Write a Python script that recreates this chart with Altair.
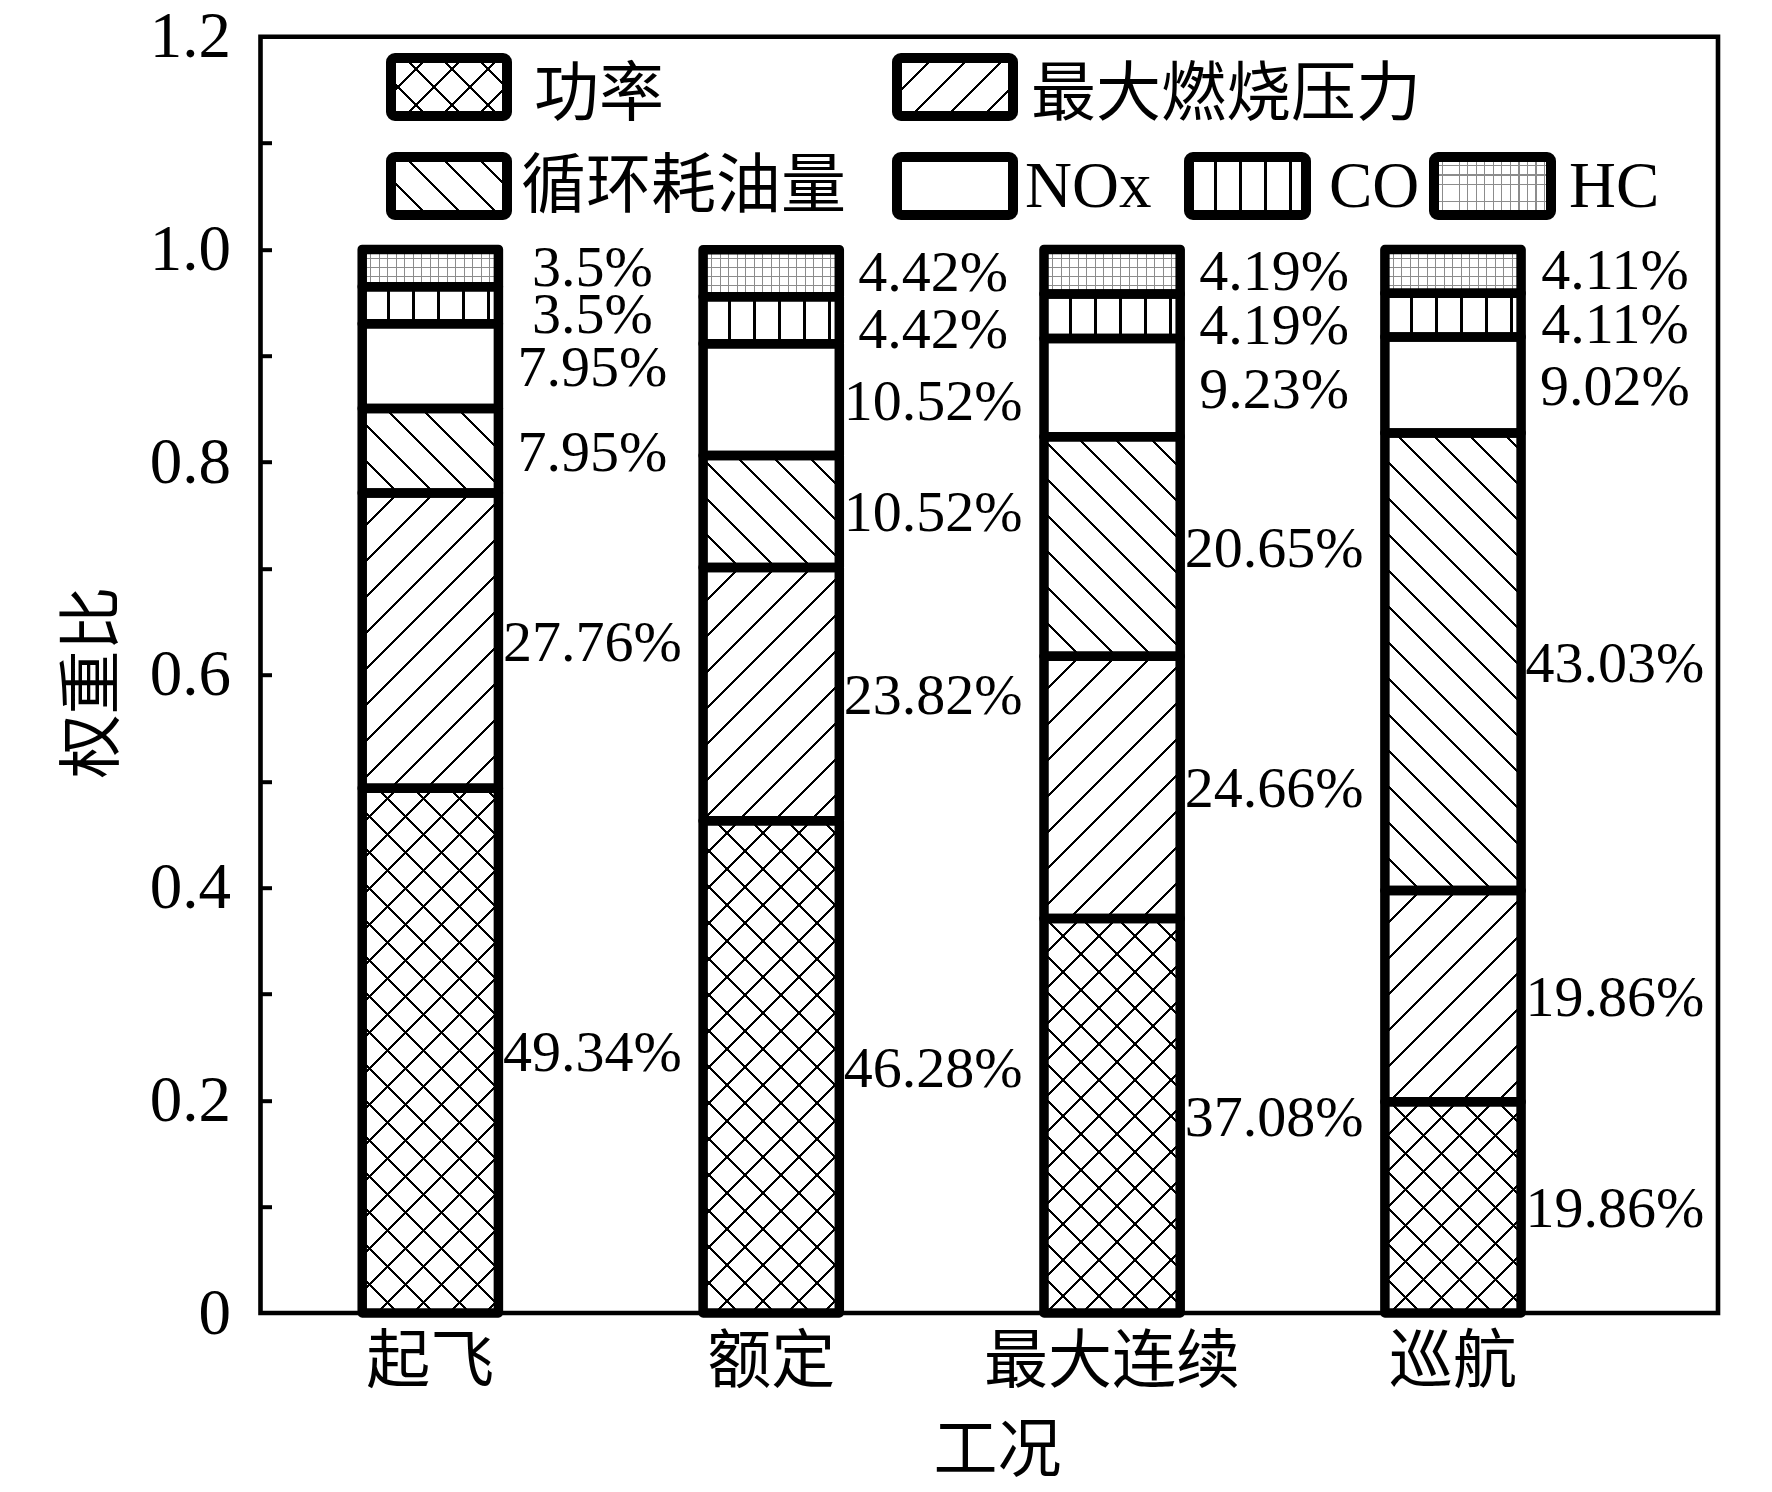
import altair as alt

# ---------------- data ----------------
conditions = ["起飞", "额定", "最大连续", "巡航"]
series = ["功率", "最大燃烧压力", "循环耗油量", "NOx", "CO", "HC"]
power = [0.4934, 0.4628, 0.3708, 0.1986]
pressure = [0.2776, 0.2382, 0.2466, 0.1986]
fuel = [0.0795, 0.1052, 0.2065, 0.4303]
nox = [0.0795, 0.1052, 0.0923, 0.0902]
co = [0.0350, 0.0442, 0.0419, 0.0411]
hc = [0.0350, 0.0442, 0.0419, 0.0411]
y_labels = [0, 0.2, 0.4, 0.6, 0.8, 1.0, 1.2]
y_minor = [0.1, 0.2, 0.3, 0.4, 0.5, 0.6, 0.7, 0.8, 0.9, 1.0, 1.1]
values_by_series = [power, pressure, fuel, nox, co, hc]

# ---------------- layout / style ----------------
X0, Y0 = 260.5, 36.7            # plot origin on the page
W, H = 1457.5, 1276.3           # plot area
Y_MAX = 1.2
PAD_IN, PAD_OUT, ALIGN = 0.6005, 0.438, 0.3406
STEP = W / (len(conditions) - PAD_IN + 2 * PAD_OUT)
BAR_W = STEP * (1 - PAD_IN)
SERIF = "Liberation Serif"
CJK = "Noto Sans CJK SC"
MIXED = "Liberation Serif, Noto Sans CJK SC"
CLEAR = "rgba(255,255,255,0)"
GRID_GRAY = "#8c8c8c"
LABEL_DX = 162
LABEL_DY = {"CO": 11, "HC": 1}
LABEL_DY_DEFAULT = 3


def stripes(kind, w, h, period, lw, fg="black", bg="white", phase=0.0):
    """Linear gradient with hard stops that imitates a hatch pattern."""
    if kind == "vert":
        L = w
        geo = dict(x1=0, y1=0, x2=1, y2=0)
    elif kind == "horiz":
        L = h
        geo = dict(x1=0, y1=0, x2=0, y2=1)
    else:
        D = w * w + h * h
        L = w + h
        a, b = w * L / D, h * L / D
        if kind == "fwd":
            geo = dict(x1=0, y1=0, x2=a, y2=b)
        else:
            geo = dict(x1=0, y1=1, x2=a, y2=1 - b)
    stops = [{"offset": 0, "color": bg}]
    c = (phase % period) - period
    while c - lw / 2 <= L:
        s = max(0.0, (c - lw / 2) / L)
        e = min(1.0, (c + lw / 2) / L)
        if e > 0 and s < 1:
            s, e = round(s, 5), round(e, 5)
            stops += [{"offset": s, "color": bg}, {"offset": s, "color": fg},
                      {"offset": e, "color": fg}, {"offset": e, "color": bg}]
        c += period
    stops.append({"offset": 1, "color": bg})
    return {"gradient": "linear", **geo, "stops": stops}


def fills(name, w, h):
    diag_p, diag_w = 36, 3.0
    if name == "功率":
        return (stripes("back", w, h, diag_p, diag_w),
                stripes("fwd", w, h, diag_p, diag_w, bg=CLEAR))
    if name == "最大燃烧压力":
        return stripes("fwd", w, h, diag_p, diag_w), CLEAR
    if name == "循环耗油量":
        return stripes("back", w, h, diag_p, diag_w), CLEAR
    if name == "NOx":
        return "white", CLEAR
    if name == "CO":
        return stripes("vert", w, h, 25, 2.7, phase=1.3), CLEAR
    return (stripes("vert", w, h, 8.5, 1.0, fg=GRID_GRAY),
            stripes("horiz", w, h, 9.0, 1.0, fg=GRID_GRAY, bg=CLEAR))


def pct(v):
    return f"{v * 100:.2f}".rstrip("0").rstrip(".") + "%"


records = []
for k, (name, vals) in enumerate(zip(series, values_by_series)):
    for cond, v in zip(conditions, vals):
        g1, g2 = fills(name, BAR_W, v * H / Y_MAX)
        records.append({"cond": cond, "ser": name, "k": k, "v": v,
                        "lab": pct(v), "g1": g1, "g2": g2})

# legend layout (page coordinates of swatch rectangles and text starts)
legend_cols = {"A": (391, 507), "B": (897, 1013), "C": (1189, 1306), "D": (1434, 1551)}
legend_rows = {1: (58, 116), 2: (157, 215)}
legend_text_y = {1: 94.5, 2: 186.5}
legend_place = [("功率", "A", 1, 534), ("最大燃烧压力", "B", 1, 1031),
                ("循环耗油量", "A", 2, 521), ("NOx", "B", 2, 1025),
                ("CO", "C", 2, 1329), ("HC", "D", 2, 1569)]
legend_records = []
for name, col, row, tx in legend_place:
    lx, lx2 = legend_cols[col]
    ly, ly2 = legend_rows[row]
    g1, g2 = fills(name, lx2 - lx, ly2 - ly)
    legend_records.append({"name": name, "lx": lx - X0, "lx2": lx2 - X0,
                           "ly": ly - Y0, "ly2": ly2 - Y0,
                           "tx": tx - X0, "ty": legend_text_y[row] - Y0,
                           "g1": g1, "g2": g2})

# ---------------- chart ----------------
bars_data = alt.Data(values=records)
legend_data = alt.Data(values=legend_records)

xenc = alt.X("cond:N", sort=conditions,
             scale=alt.Scale(paddingInner=PAD_IN, paddingOuter=PAD_OUT, align=ALIGN),
             axis=alt.Axis(title="工况", labelAngle=0, labelFont=MIXED, labelFontSize=64,
                           labelColor="black", labelPadding=49.5, labelBaseline="middle",
                           labelLimit=1000, ticks=False, tickSize=0, domain=False,
                           titleFont=CJK, titleFontSize=64, titleFontWeight="normal",
                           titleColor="black", titleX=736.5, titleY=138,
                           titleBaseline="middle"))
yscale = alt.Scale(domain=[0, Y_MAX], nice=False, zero=True)

base = alt.Chart(bars_data).transform_stack(
    stack="v", groupby=["cond"], as_=["y0", "y1"],
    sort=[alt.SortField("k", order="ascending")]
).transform_calculate(mid="(datum.y0 + datum.y1) / 2")

bars_fill = base.mark_bar(strokeWidth=0).encode(
    x=xenc,
    y=alt.Y("y0:Q", scale=yscale,
            axis=alt.Axis(title="权重比", orient="left", values=y_labels,
                          labelExpr="datum.value == 0 ? '0' : format(datum.value, '.1f')",
                          labelFont=SERIF, labelFontSize=65, labelColor="black",
                          labelPadding=30, labelBaseline="middle",
                          ticks=False, tickSize=0, domain=False, grid=False,
                          titleFont=CJK, titleFontSize=64, titleFontWeight="normal",
                          titleColor="black", titleAngle=270, titleX=-167.5,
                          titleY=645.3, titleBaseline="middle", titleAlign="center")),
    y2="y1:Q",
    fill=alt.Fill("g1:N", scale=None),
)

bars_line = base.mark_bar(stroke="black", strokeWidth=9.5, strokeJoin="round").encode(
    x=xenc,
    y=alt.Y("y0:Q", scale=yscale,
            axis=alt.Axis(title=None, orient="right", offset=-W, values=y_minor,
                          labels=False, ticks=True, tickSize=11, tickWidth=4,
                          tickColor="black", domain=False, grid=False)),
    y2="y1:Q",
    fill=alt.Fill("g2:N", scale=None),
)


def label_layer(filter_expr, dy):
    return base.transform_filter(filter_expr).mark_text(
        font=SERIF, fontSize=58, color="black", align="center",
        baseline="middle", dx=LABEL_DX, dy=dy).encode(
        x=xenc,
        y=alt.Y("mid:Q", scale=yscale, axis=None),
        text="lab:N",
    )


special = list(LABEL_DY)
label_layers = [label_layer(f"datum.ser == '{s}'", LABEL_DY[s]) for s in special]
label_layers.append(label_layer(
    " && ".join(f"datum.ser != '{s}'" for s in special), LABEL_DY_DEFAULT))

leg_base = alt.Chart(legend_data)
leg_fill = leg_base.mark_rect(strokeWidth=0, cornerRadius=4).encode(
    x=alt.X("lx:Q", scale=None, axis=None), x2="lx2:Q",
    y=alt.Y("ly:Q", scale=None, axis=None), y2="ly2:Q",
    fill=alt.Fill("g1:N", scale=None),
)
leg_line = leg_base.mark_rect(stroke="black", strokeWidth=10, strokeJoin="round",
                              cornerRadius=4).encode(
    x=alt.X("lx:Q", scale=None, axis=None), x2="lx2:Q",
    y=alt.Y("ly:Q", scale=None, axis=None), y2="ly2:Q",
    fill=alt.Fill("g2:N", scale=None),
)
leg_text = leg_base.mark_text(font=MIXED, fontSize=65, color="black", align="left",
                              baseline="middle").encode(
    x=alt.X("tx:Q", scale=None, axis=None),
    y=alt.Y("ty:Q", scale=None, axis=None),
    text="name:N",
)

chart = alt.layer(bars_fill, bars_line, *label_layers, leg_fill, leg_line, leg_text).resolve_axis(
    y="independent"
).properties(
    width=W, height=H,
    autosize=alt.AutoSizeParams(type="none"),
    padding={"left": X0 - 8, "top": Y0 - 8, "right": 46, "bottom": 171},
    background="white",
).configure_view(stroke="black", strokeWidth=4.6).configure_axis(grid=False)

chart.save("out.html", embed_options={"renderer": "svg", "actions": False})
